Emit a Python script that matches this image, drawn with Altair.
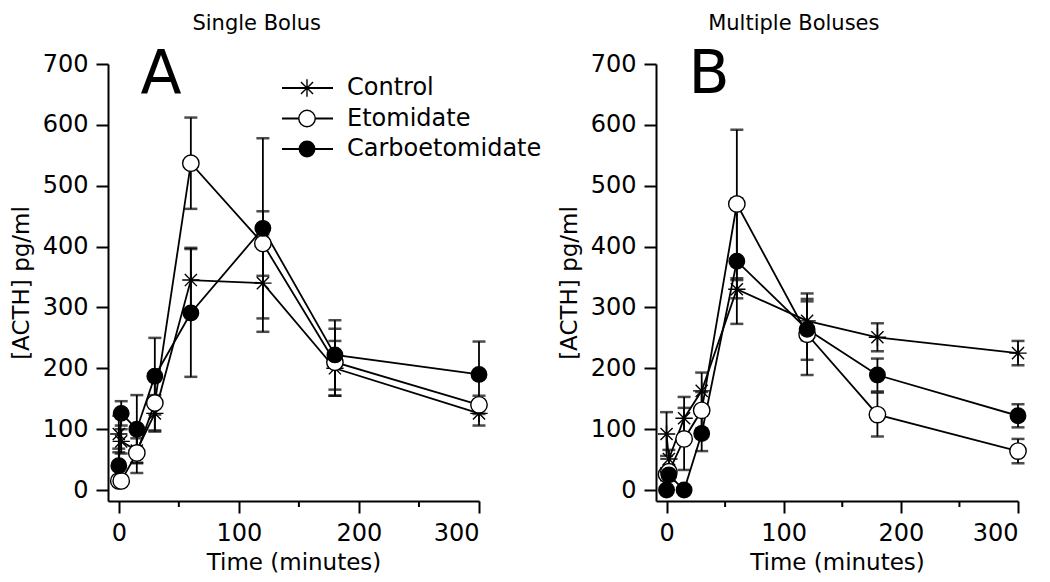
import altair as alt
import pandas as pd

FONT = "DejaVu Sans"
SERIES = ["Control", "Etomidate", "Carboetomidate"]
TIMES = [0, 2, 15, 30, 60, 120, 180, 300]

# Panel A: Single Bolus (mean, error)
A_CONTROL = [92, 80, 65, 126, 345, 340, 200, 126]
A_CONTROL_ERR = [30, 20, 20, 30, 53, 80, 45, 20]
A_ETO = [15, 15, 61, 143, 537, 405, 210, 140]
A_ETO_ERR = [8, 8, 33, 45, 75, 53, 55, 15]
A_CARBO = [40, 126, 100, 187, 291, 430, 222, 190]
A_CARBO_ERR = [28, 20, 56, 63, 105, 148, 57, 54]

# Panel B: Multiple Boluses
B_CONTROL = [92, 51, 118, 163, 330, 278, 251, 225]
B_CONTROL_ERR = [36, 15, 35, 30, 15, 32, 23, 20]
B_ETO = [26, 30, 84, 131, 470, 256, 124, 64]
B_ETO_ERR = [10, 10, 51, 30, 122, 67, 36, 20]
B_CARBO = [0, 25, 0, 93, 376, 264, 189, 122]
B_CARBO_ERR = [5, 10, 5, 29, 103, 50, 27, 19]

X_TICKS = [0, 100, 200, 300]
MINOR_TICKS = [50, 150, 250]
Y_TICKS = [0, 100, 200, 300, 400, 500, 600, 700]

ASTERISK = "M-1,0L1,0M0,-1L0,1M-0.7,-0.7L0.7,0.7M-0.7,0.7L0.7,-0.7"

H = 437


def frame(vals, errs):
    rows = []
    for k, (s, v, e) in enumerate(zip(SERIES, vals, errs)):
        for t, vv, ee in zip(TIMES, v, e):
            rows.append(dict(series=s, t=t, v=vv, lo=vv - ee, hi=vv + ee, k=k))
    return pd.DataFrame(rows)


shape_enc = alt.Shape("series:N", scale=alt.Scale(domain=SERIES, range=[ASTERISK, "circle", "circle"]), legend=None)
fill_enc = alt.Fill("series:N", scale=alt.Scale(domain=SERIES, range=["white", "white", "black"]), legend=None)
size_enc = alt.Size("series:N", scale=alt.Scale(domain=SERIES, range=[300, 240, 240]), legend=None)


def panel(df, title, letter, with_legend, width, title_dx):
    xs = alt.Scale(domain=[-9, 300], nice=False, zero=False)
    ys = alt.Scale(domain=[-18, 700], nice=False, zero=False)
    x = alt.X("t:Q", scale=xs, axis=alt.Axis(values=X_TICKS, title="Time (minutes)",
                                             labelPadding=8, titlePadding=6))
    y = alt.Y("v:Q", scale=ys, axis=alt.Axis(values=Y_TICKS, title="[ACTH] pg/ml",
                                             labelPadding=8, titlePadding=9))
    base = alt.Chart(df)
    lines = base.mark_line(color="black", strokeWidth=1.8).encode(
        x=x, y=y, detail="series:N", order="t:Q")
    bars = base.mark_rule(color="black", strokeWidth=1.8).encode(x="t:Q", y="lo:Q", y2="hi:Q")
    cap_lo = base.mark_tick(color="black", orient="horizontal", size=13, thickness=2.5).encode(x="t:Q", y="lo:Q")
    cap_hi = base.mark_tick(color="black", orient="horizontal", size=13, thickness=2.5).encode(x="t:Q", y="hi:Q")
    pts = base.mark_point(filled=True, stroke="black", strokeWidth=1.4, opacity=1).encode(
        x="t:Q", y="v:Q", shape=shape_enc, fill=fill_enc, size=size_enc, order="k:Q")
    minor = alt.Chart(pd.DataFrame({"t": MINOR_TICKS})).mark_rule(color="black", strokeWidth=2).encode(
        x="t:Q", y=alt.value(H), y2=alt.value(H + 6))
    let = alt.Chart(pd.DataFrame({"label": [letter]})).mark_text(
        font=FONT, fontSize=60, baseline="middle", align="center", color="black").encode(
        x=alt.value(53), y=alt.value(11), text="label:N")
    data_layer = alt.layer(lines, bars, cap_lo, cap_hi, pts, minor, let)
    if with_legend:
        leg = pd.DataFrame({"series": SERIES})
        ly = alt.Y("series:N", scale=alt.Scale(type="point", domain=SERIES, range=[24, 85], padding=0), axis=None)
        lb = alt.Chart(leg)
        leg_rule = lb.mark_rule(color="black", strokeWidth=1.8).encode(
            x=alt.value(174), x2=alt.value(225), y=ly)
        leg_pts = lb.mark_point(filled=True, stroke="black", strokeWidth=1.4, opacity=1).encode(
            x=alt.value(199), y=ly, shape=shape_enc, fill=fill_enc, size=size_enc)
        leg_txt = lb.mark_text(font=FONT, fontSize=24, align="left", baseline="middle", color="black").encode(
            x=alt.value(239), y=ly, text="series:N")
        ch = alt.layer(data_layer, alt.layer(leg_rule, leg_pts, leg_txt)).resolve_scale(y="independent")
    else:
        ch = data_layer
    return ch.properties(
        width=width, height=H,
        title=alt.TitleParams(title, font=FONT, fontSize=21, fontWeight="normal", anchor="middle",
                              frame="bounds", offset=11, dx=title_dx, color="black"))


pA = panel(frame([A_CONTROL, A_ETO, A_CARBO], [A_CONTROL_ERR, A_ETO_ERR, A_CARBO_ERR]),
           "Single Bolus", "A", True, 371, -19)
pB = panel(frame([B_CONTROL, B_ETO, B_CARBO], [B_CONTROL_ERR, B_ETO_ERR, B_CARBO_ERR]),
           "Multiple Boluses", "B", False, 362, 0)

chart = alt.hconcat(pA, pB, spacing=16).configure(
    padding={"left": 2, "top": 5, "right": 0, "bottom": 0}, background="white"
).configure_view(stroke=None).configure_axis(
    domainColor="black", domainWidth=2, tickColor="black", tickWidth=2, tickSize=12,
    labelFont=FONT, labelFontSize=24, labelColor="black",
    titleFont=FONT, titleFontSize=23, titleFontWeight="normal", titleColor="black",
    grid=False
)

chart.save("out.html", embed_options={"renderer": "svg", "actions": False})
